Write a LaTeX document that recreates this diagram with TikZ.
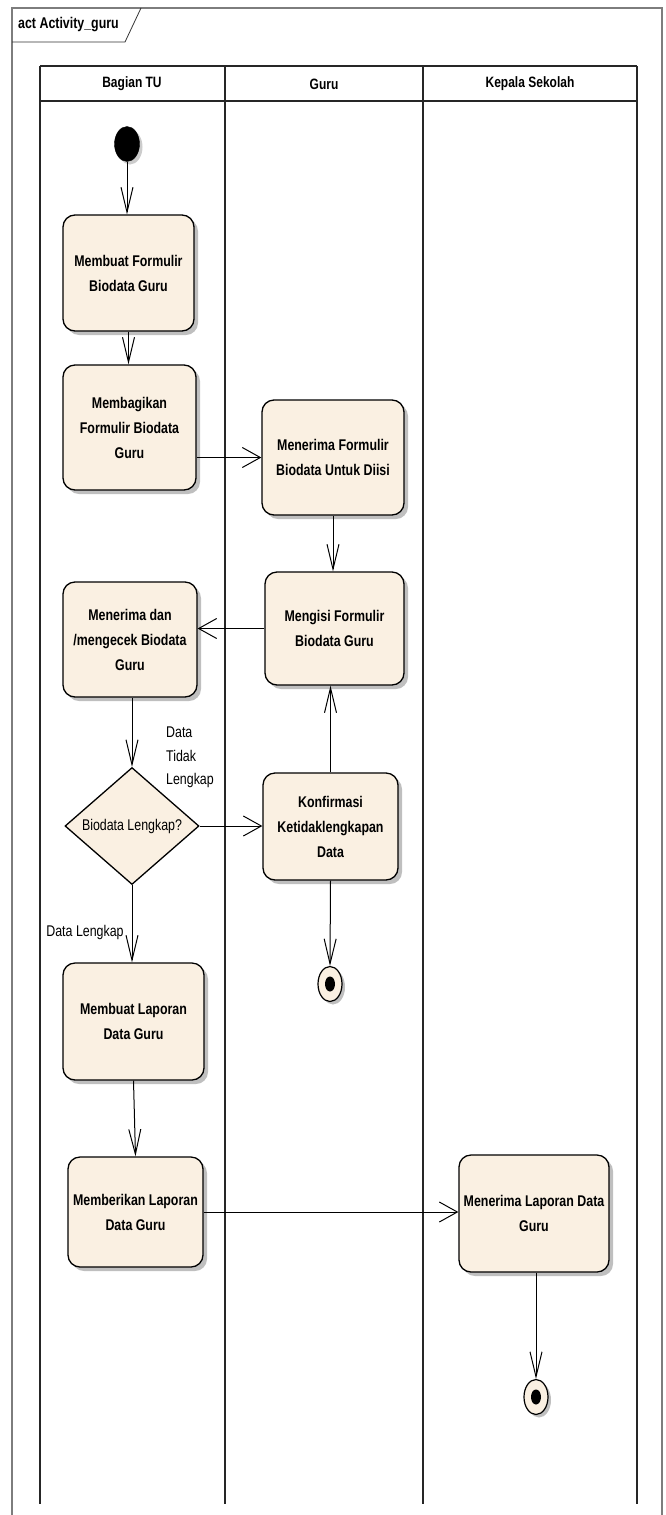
\documentclass[tikz,border=0pt]{standalone}
\usepackage{fontspec}
\setmainfont{Liberation Sans}[FakeStretch=0.8]
\usetikzlibrary{shapes.geometric,arrows.meta,shadows,calc}
\definecolor{actfill}{RGB}{250,240,226}
\definecolor{framegray}{RGB}{125,125,125}
\begin{document}
\begin{tikzpicture}[x=1pt,y=-1pt,
  act/.style={draw=black, line width=1.3pt, fill=actfill, rounded corners=12pt, align=center,
    font=\bfseries\fontsize{15.5}{25}\selectfont, inner sep=2pt,
    drop shadow={shadow xshift=4pt,shadow yshift=-4pt,fill=black!25,opacity=1}},
  decision/.style={diamond, draw=black, line width=1.3pt, fill=actfill, aspect=1.145, inner sep=0pt,
    minimum width=134pt, minimum height=117pt, font=\fontsize{15.5}{17}\selectfont},
  startnode/.style={ellipse, fill=black, draw=black, inner sep=0pt, minimum width=25pt, minimum height=35pt,
    drop shadow={shadow xshift=3pt,shadow yshift=-3pt,fill=black!20,opacity=1}},
  endnode/.style={ellipse, fill=actfill, draw=black, line width=1.2pt, inner sep=0pt, minimum width=24pt, minimum height=35pt,
    drop shadow={shadow xshift=3pt,shadow yshift=-3pt,fill=black!25,opacity=1}},
  lane/.style={draw=black!85, line width=1.4pt},
  lanehead/.style={font=\bfseries\fontsize{15}{17}\selectfont},
  guard/.style={font=\fontsize{15.5}{23.5}\selectfont, inner sep=0pt},
  vflow/.style={draw=black, line width=1pt, -{Straight Barb[length=25pt,width=12pt,line width=1pt]}},
  hflow/.style={draw=black, line width=1pt, -{Straight Barb[length=18pt,width=20pt,line width=1pt]}}
]
\useasboundingbox (0,0) rectangle (665,1515);

% outer frame
\draw[framegray, line width=1.2pt] (12,1515) -- (12,8) -- (662,8) -- (662,1515);
\draw[black!80, line width=0.8pt] (12,42) -- (125,42) -- (141,8);
\node[anchor=west, font=\bfseries\fontsize{15.5}{17}\selectfont, inner sep=0pt] (title) at (18,25) {act Activity\_guru};

% swimlanes
\draw[lane] (40,66) -- (637,66);
\draw[lane] (40,101) -- (637,101);
\draw[lane] (40,66) -- (40,1504);
\draw[lane] (225,66) -- (225,1504);
\draw[lane] (423,66) -- (423,1504);
\draw[lane] (637,66) -- (637,1504);
\node[lanehead] (h1) at (132,84) {Bagian TU};
\node[lanehead] (h2) at (324,84) {Guru};
\node[lanehead] (h3) at (530,84) {Kepala Sekolah};

% nodes
\node[startnode] (start) at (127,144) {};
\node[act, minimum width=131pt, minimum height=116pt] (b1) at (128.5,273) {Membuat Formulir\\Biodata Guru};
\node[act, minimum width=133pt, minimum height=125pt] (b2) at (129.5,427.5) {Membagikan\\Formulir Biodata\\Guru};
\node[act, minimum width=142pt, minimum height=115pt] (b3) at (333,457.5) {Menerima Formulir\\Biodata Untuk Diisi};
\node[act, minimum width=139pt, minimum height=113pt] (b4) at (334.5,628.5) {Mengisi Formulir\\Biodata Guru};
\node[act, minimum width=134pt, minimum height=115pt] (b5) at (130,639.5) {Menerima dan\\/mengecek Biodata\\Guru};
\node[decision] (d) at (132,826) {Biodata Lengkap?};
\node[act, minimum width=135pt, minimum height=107pt] (b6) at (330.5,826.5) {Konfirmasi\\Ketidaklengkapan\\Data};
\node[endnode] (end1) at (330,984) {};
\fill (end1.center) ellipse [x radius=5pt, y radius=7.5pt];
\node[act, minimum width=141pt, minimum height=117pt] (b7) at (133.5,1021.5) {Membuat Laporan\\Data Guru};
\node[act, minimum width=135pt, minimum height=110pt] (b8) at (135.5,1212) {Memberikan Laporan\\Data Guru};
\node[act, minimum width=150pt, minimum height=117pt] (b9) at (534,1213.5) {Menerima Laporan Data\\Guru};
\node[endnode] (end2) at (536,1397) {};
\fill (end2.center) ellipse [x radius=5pt, y radius=7.5pt];

% guards
\node[guard, anchor=north west, align=left] (g1) at (166,727) {Data\\Tidak\\Lengkap};
\node[guard] (g2) at (85,932) {Data Lengkap};

% flows
\draw[vflow] (start.south) -- (start.south |- b1.north);
\draw[vflow] (b1.south) -- (b1.south |- b2.north);
\draw[hflow] (b3.west -| b2.east) -- (b3.west);
\draw[vflow] (b3.south) -- (b3.south |- b4.north);
\draw[hflow] (b4.west) -- (b4.west -| b5.east);
\draw[vflow] (d.north |- b5.south) -- (d.north);
\draw[hflow] (d.east) -- (d.east -| b6.west);
\draw[vflow] (b6.north) -- (b6.north |- b4.south);
\draw[vflow] (b6.south) -- (end1.north);
\draw[vflow] (d.south) -- (d.south |- b7.north);
\draw[vflow] (b7.south) -- (b8.north);
\draw[hflow] (b8.east) -- (b8.east -| b9.west);
\draw[vflow] (end2.north |- b9.south) -- (end2.north);
\end{tikzpicture}
\end{document}
